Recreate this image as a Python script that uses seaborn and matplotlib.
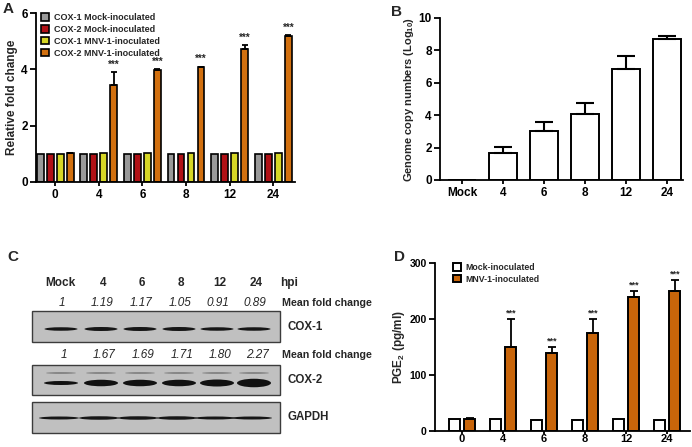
import numpy as np
import pandas as pd
import seaborn as sns
import matplotlib.pyplot as plt
from matplotlib.patches import Rectangle, Ellipse, Patch

# ---- data ----
hpi = ["0", "4", "6", "8", "12", "24"]

# A: relative fold change (qRT-PCR)
a_series = ["COX-1 Mock-inoculated", "COX-2 Mock-inoculated",
            "COX-1 MNV-1-inoculated", "COX-2 MNV-1-inoculated"]
a_cox1_mock = [1.0, 1.0, 1.0, 1.0, 1.0, 1.0]
a_cox2_mock = [1.0, 1.0, 1.0, 1.0, 1.0, 1.0]
a_cox1_mnv = [1.0, 1.02, 1.02, 1.02, 1.02, 1.02]
a_cox2_mnv = [1.02, 3.45, 3.98, 4.08, 4.72, 5.2]
a_cox2_mnv_err = [0.0, 0.45, 0.02, 0.02, 0.15, 0.02]
a_colors = ["#999999", "#b01116", "#d6d626", "#d2700f"]

# B: genome copy numbers
b_labels = ["Mock", "4", "6", "8", "12", "24"]
b_copies = [0.0, 1.65, 3.05, 4.05, 6.85, 8.72]
b_err = [0.0, 0.4, 0.5, 0.7, 0.8, 0.15]

# C: western blot
c_lanes = ["Mock", "4", "6", "8", "12", "24"]
c_cox1_fold = ["1", "1.19", "1.17", "1.05", "0.91", "0.89"]
c_cox2_fold = ["1", "1.67", "1.69", "1.71", "1.80", "2.27"]
c_cox1_band = [3.5, 4.0, 4.0, 4.0, 3.5, 3.5]
c_cox2_band = [4.0, 6.5, 6.5, 6.5, 7.0, 8.5]
c_gapdh_band = [3.0, 3.5, 3.5, 3.5, 3.0, 3.0]

# D: PGE2
d_series = ["Mock-inoculated", "MNV-1-inoculated"]
d_mock = [21, 21, 20, 19, 21, 19]
d_mnv = [22, 150, 140, 175, 240, 250]
d_mnv_err = [1, 50, 10, 25, 10, 20]
d_colors = ["white", "#c8650a"]

sns.set_style("ticks")
plt.rcParams["font.family"] = ["Liberation Sans", "DejaVu Sans"]
plt.rcParams["font.weight"] = "bold"
plt.rcParams["axes.labelweight"] = "bold"
plt.rcParams["mathtext.default"] = "regular"

W, H = 692, 447
fig = plt.figure(figsize=(W / 100, H / 100), dpi=100)


def px_axes(left, top, right, bottom):
    return fig.add_axes([left / W, 1 - bottom / H, (right - left) / W, (bottom - top) / H])


def style(ax, lw=1.3):
    sns.despine(ax=ax)
    for s in ["left", "bottom"]:
        ax.spines[s].set_linewidth(lw)
        ax.spines[s].set_color("black")
    ax.tick_params(axis="both", width=lw, length=4, labelsize=8.5, colors="black", pad=2)
    ax.tick_params(axis="x", length=3)
    ax.set_xlabel("")


def up_errors(ax, xs, ys, errs, capsize, lw=1.3):
    ax.errorbar(xs, ys, yerr=[np.zeros(len(errs)), errs], fmt="none",
                ecolor="black", elinewidth=lw, capsize=capsize, capthick=lw, zorder=1)


# ---- panel A ----
axA = px_axes(36, 13, 295, 182)
dfA = pd.DataFrame({
    "hpi": hpi * 4,
    "series": np.repeat(a_series, 6),
    "value": a_cox1_mock + a_cox2_mock + a_cox1_mnv + a_cox2_mnv,
})
sns.barplot(data=dfA, x="hpi", y="value", hue="series", order=hpi, hue_order=a_series,
            palette=a_colors, saturation=1, width=0.92, gap=0.32, edgecolor="black",
            linewidth=1.2, errorbar=None, legend=False, ax=axA)
bars = axA.patches[18:24]
xs = [p.get_x() + p.get_width() / 2 for p in bars]
ys = [p.get_height() for p in bars]
up_errors(axA, xs, ys, a_cox2_mnv_err, 2)
for x, y, e in list(zip(xs, ys, a_cox2_mnv_err))[1:]:
    axA.text(x, y + e + 0.08, "***", ha="center", va="bottom", fontsize=7)
axA.set_xlim(-0.44, 5.5)
axA.set_ylim(0, 6)
axA.set_yticks([0, 2, 4, 6])
axA.set_ylabel("Relative fold change", fontsize=8.5, labelpad=2)
style(axA)
handles = [Patch(facecolor=c, edgecolor="black", linewidth=1.2, label=s)
           for c, s in zip(a_colors, a_series)]
axA.legend(handles=handles, loc="upper left", bbox_to_anchor=(0.02, 1.0), frameon=False,
           fontsize=6.5, handlelength=0.9, handleheight=0.9, handletextpad=0.55,
           labelspacing=0.32, borderaxespad=0, borderpad=0)

# ---- panel B ----
axB = px_axes(440, 18, 683, 180)
dfB = pd.DataFrame({"hpi": b_labels, "copies": b_copies})
sns.barplot(data=dfB, x="hpi", y="copies", order=b_labels, color="white", saturation=1,
            width=0.68, edgecolor="black", linewidth=1.4, errorbar=None, ax=axB)
xs = [p.get_x() + p.get_width() / 2 for p in axB.patches]
ys = [p.get_height() for p in axB.patches]
up_errors(axB, xs[1:], ys[1:], b_err[1:], 6.5, lw=1.5)
axB.set_xlim(-0.54, 5.39)
axB.set_ylim(0, 10)
axB.set_yticks([0, 2, 4, 6, 8, 10])
axB.set_ylabel("Genome copy numbers (Log$_{10}$)", fontsize=8, labelpad=2)
style(axB)

# ---- panel D ----
axD = px_axes(435, 263, 690, 431)
dfD = pd.DataFrame({
    "hpi": hpi * 2,
    "series": np.repeat(d_series, 6),
    "pge2": d_mock + d_mnv,
})
sns.barplot(data=dfD, x="hpi", y="pge2", hue="series", order=hpi, hue_order=d_series,
            palette=d_colors, saturation=1, width=0.76, gap=0.3, edgecolor="black",
            linewidth=1.4, errorbar=None, legend=False, ax=axD)
bars = axD.patches[6:12]
xs = [p.get_x() + p.get_width() / 2 for p in bars]
ys = [p.get_height() for p in bars]
up_errors(axD, xs, ys, d_mnv_err, 3)
for x, y, e in list(zip(xs, ys, d_mnv_err))[1:]:
    axD.text(x, y + e + 3, "***", ha="center", va="bottom", fontsize=6.5)
axD.set_xlim(-0.66, 5.56)
axD.set_ylim(0, 300)
axD.set_yticks([0, 100, 200, 300])
axD.set_ylabel("PGE$_2$ (pg/ml)", fontsize=8.5, labelpad=2)
style(axD)
axD.tick_params(axis="y", labelsize=7.5)
axD.tick_params(axis="x", length=2, pad=0.5, labelsize=8)
handles = [Patch(facecolor=c, edgecolor="black", linewidth=1.4, label=s)
           for c, s in zip(d_colors, d_series)]
axD.legend(handles=handles, loc="upper left", bbox_to_anchor=(0.07, 1.0), frameon=False,
           fontsize=6.3, handlelength=0.9, handleheight=0.9, handletextpad=0.5,
           labelspacing=0.3, borderaxespad=0, borderpad=0)

# ---- panel C (blot), drawn in pixel coordinates ----
axC = fig.add_axes([0, 0, 1, 1])
axC.set_xlim(0, W)
axC.set_ylim(H, 0)
axC.axis("off")
lane_x = [61, 101, 140, 179, 217, 254]

for lx, lab in zip([60, 103, 142, 181, 220, 256], c_lanes):
    axC.text(lx, 283, lab, ha="center", va="center", fontsize=8.5)
axC.text(280, 283, "hpi", ha="left", va="center", fontsize=8.5)

for lx, v in zip(lane_x, c_cox1_fold):
    axC.text(lx + 1, 303, v, ha="center", va="center", fontsize=8.5,
             style="italic", fontweight="normal")
for lx, v in zip(lane_x, c_cox2_fold):
    axC.text(lx + 3, 355, v, ha="center", va="center", fontsize=8.5,
             style="italic", fontweight="normal")
axC.text(282, 303, "Mean fold change", ha="left", va="center", fontsize=7.7)
axC.text(282, 355, "Mean fold change", ha="left", va="center", fontsize=7.7)

blots = [(311, 342, "COX-1"), (365, 395, "COX-2"), (402, 433, "GAPDH")]
for top, bot, name in blots:
    axC.add_patch(Rectangle((32, top), 248, bot - top, facecolor="#c0c0c0",
                            edgecolor="#3c3c3c", linewidth=1.0))
    axC.text(287, (top + bot) / 2, name, ha="left", va="center", fontsize=8.3)

for lx, t in zip(lane_x, c_cox1_band):
    axC.add_patch(Ellipse((lx, 329), 33, t, facecolor="#161616", edgecolor="none"))
for lx, t in zip(lane_x, c_cox2_band):
    axC.add_patch(Ellipse((lx, 373), 30, 1.4, facecolor="#6e6e6e", edgecolor="none"))
    axC.add_patch(Ellipse((lx, 383), 34, t, facecolor="#111111", edgecolor="none"))
for lx, t in zip(lane_x, c_gapdh_band):
    axC.add_patch(Ellipse((lx - 2, 418), 40, t, facecolor="#161616", edgecolor="none"))

# panel letters
for x, y, s in [(3, 2, "A"), (391, 5, "B"), (7, 250, "C"), (394, 250, "D")]:
    axC.text(x, y, s, ha="left", va="top", fontsize=11)

fig.savefig("out.png", dpi=100)
